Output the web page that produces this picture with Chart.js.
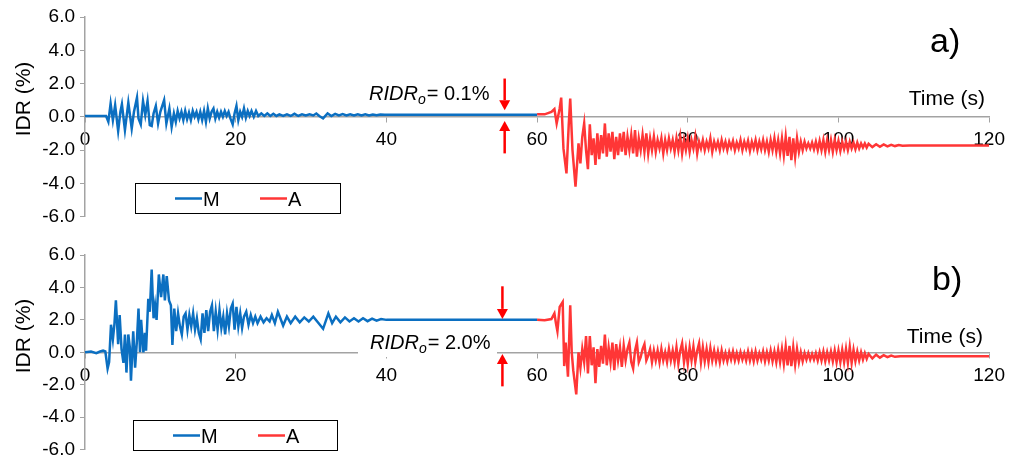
<!DOCTYPE html>
<html>
<head>
<meta charset="utf-8">
<title>IDR time histories</title>
<script src="https://cdn.jsdelivr.net/npm/chart.js@4.4.1/dist/chart.umd.min.js"></script>
<style>
  html, body { margin: 0; padding: 0; background: #fff; }
  #wrap { position: relative; width: 1012px; height: 466px; }
  #wrap canvas { position: absolute; left: 0; }
  #chartA { top: 0; }
  #chartB { top: 233px; }
</style>
</head>
<body>
<div id="wrap">
  <canvas id="chartA" width="1012" height="233"></canvas>
  <canvas id="chartB" width="1012" height="233"></canvas>
</div>
<script>
// ===== Data, [time (s), IDR (%)] =====
const xTicks = [0, 20, 40, 60, 80, 100, 120];
const yTicks = [-6, -4, -2, 0, 2, 4, 6];

// panel a) - M (mainshock)
const aSeriesM = [
    [0, 0.05], [2.8, 0.05], [3.1, -0.3], [3.4, 0.8], [3.7, -0.2], [4.0, 0.7], [4.4, -0.85], [4.7, 0.3], [4.9, 0.75], [5.3, -0.8],
    [5.75, 0.85], [6.2, -0.7], [6.5, 0.3], [6.9, 1.15], [7.1, -0.1], [7.4, -0.45], [7.7, 0.95], [8.0, 0.1], [8.3, 0.95], [8.6, -0.5],
    [8.85, -0.55], [9.1, 0.2], [9.4, 0.65], [9.7, -0.4], [10.0, 0.3], [10.5, 1.0], [10.8, -0.4], [11.2, 0.5], [11.5, -0.6], [11.8, 0.2],
    [12.05, -0.3], [12.3, 0.35], [12.55, -0.1], [12.8, 0.3], [13.05, -0.2], [13.3, 0.35], [13.55, -0.15], [13.8, 0.25], [14.05, -0.2], [14.3, 0.35],
    [14.55, 0.0], [14.8, 0.3], [15.05, -0.15], [15.3, 0.3], [15.55, -0.2], [15.8, 0.35], [16.05, -0.3], [16.3, 0.5], [16.55, -0.1], [16.8, 0.3],
    [17.05, 0.5], [17.3, -0.1], [17.55, 0.3], [17.8, -0.05], [18.05, 0.3], [18.3, 0.0], [18.55, 0.35], [18.8, 0.05], [19.05, 0.3], [19.3, -0.1],
    [19.6, -0.45], [19.85, 0.2], [20.1, 0.65], [20.35, -0.2], [20.6, 0.3], [20.85, 0.0], [21.1, 0.5], [21.35, -0.05], [21.6, 0.35], [21.85, 0.05],
    [22.1, 0.35], [22.4, 0.0], [22.7, 0.35], [23.0, 0.05], [23.4, 0.2], [23.8, 0.05], [24.2, 0.2], [24.6, 0.05], [25.0, 0.18], [25.4, 0.05],
    [25.8, 0.15], [26.3, 0.05], [26.8, 0.15], [27.3, 0.05], [27.8, 0.18], [28.3, 0.05], [28.8, 0.15], [29.3, 0.08], [29.8, 0.15], [30.3, 0.08],
    [30.7, 0.2], [31.1, 0.05], [31.6, -0.1], [32.2, 0.2], [32.7, 0.05], [33.2, 0.18], [33.7, 0.08], [34.2, 0.16], [34.7, 0.08], [35.2, 0.15],
    [35.7, 0.08], [36.2, 0.15], [36.7, 0.08], [37.2, 0.15], [37.7, 0.08], [38.2, 0.14], [38.7, 0.09], [39.2, 0.14], [39.8, 0.13], [60.0, 0.13]
];

// panel a) - A (aftershock)
const aSeriesA = [
    [60.0, 0.15], [61.0, 0.15], [61.9, 0.3], [62.3, 0.47], [62.6, -0.4], [63.0, 0.5], [63.2, 1.15], [63.5, -1.9], [63.9, -3.4], [64.2, -0.5],
    [64.4, 1.1], [64.7, -2.0], [65.1, -4.2], [65.5, -1.6], [65.75, -2.8], [66.0, -1.2], [66.25, -0.4], [66.5, -2.0], [66.75, -3.15], [67.0, -0.45],
    [67.25, -2.3], [67.5, -1.3], [67.75, -2.9], [68.0, -1.0], [68.25, -2.55], [68.5, -1.1], [68.75, -2.2], [69.0, -0.4], [69.25, -2.4], [69.5, -1.0],
    [69.75, -2.1], [70.0, -0.9], [70.25, -2.55], [70.5, -1.2], [70.75, -2.3], [71.0, -1.0], [71.25, -2.1], [71.5, -0.9], [71.75, -2.3], [72.0, -1.2],
    [72.25, -2.0], [72.5, -1.1], [72.75, -2.2], [73.0, -0.8], [73.25, -2.4], [73.5, -1.3], [73.75, -2.0], [74.0, -1.1], [74.25, -2.1], [74.5, -1.0],
    [74.75, -2.2], [75.0, -1.3], [75.25, -2.0], [75.5, -1.2], [75.75, -2.1], [76.0, -1.4], [76.25, -1.9], [76.5, -1.3], [76.75, -2.2], [77.0, -1.4],
    [77.25, -2.0], [77.5, -1.3], [77.75, -1.9], [78.0, -1.4], [78.25, -2.1], [78.5, -1.3], [78.75, -2.0], [79.0, -1.2], [79.25, -2.2], [79.5, -1.4],
    [79.75, -2.0], [80.0, -1.3], [80.25, -2.1], [80.5, -1.4], [80.75, -1.9], [81.0, -1.2], [81.25, -2.2], [81.5, -1.5], [81.75, -1.9], [82.0, -1.4],
    [82.25, -2.0], [82.5, -1.5], [82.75, -1.9], [83.0, -1.3], [83.25, -2.1], [83.5, -1.5], [83.75, -1.9], [84.0, -1.5], [84.25, -2.0], [84.5, -1.4],
    [84.75, -1.9], [85.0, -1.5], [85.25, -2.0], [85.5, -1.5], [85.75, -1.85], [86.0, -1.45], [86.25, -2.0], [86.5, -1.55], [86.75, -1.9], [87.0, -1.4],
    [87.25, -2.0], [87.5, -1.5], [87.75, -1.9], [88.0, -1.45], [88.25, -2.05], [88.5, -1.5], [88.75, -1.9], [89.0, -1.4], [89.25, -2.0], [89.5, -1.5],
    [89.75, -1.95], [90.0, -1.4], [90.25, -2.0], [90.5, -1.5], [90.75, -2.1], [91.0, -1.4], [91.25, -2.0], [91.5, -1.3], [91.75, -2.1], [92.0, -1.4],
    [92.25, -2.2], [92.5, -1.3], [92.75, -2.3], [93.0, -1.2], [93.25, -2.35], [93.5, -1.2], [93.75, -2.6], [94.0, -1.3], [94.25, -2.4], [94.5, -1.3],
    [94.75, -2.1], [95.0, -1.5], [95.25, -2.0], [95.5, -1.5], [95.75, -1.9], [96.0, -1.6], [96.25, -1.9], [96.5, -1.55], [96.75, -1.95], [97.0, -1.5],
    [97.25, -2.0], [97.5, -1.45], [97.75, -2.0], [98.0, -1.4], [98.25, -2.1], [98.5, -1.4], [98.75, -2.0], [99.0, -1.4], [99.25, -2.1], [99.5, -1.4],
    [99.75, -2.0], [100.0, -1.45], [100.25, -2.05], [100.5, -1.5], [100.75, -1.95], [101.0, -1.5], [101.25, -2.0], [101.5, -1.5], [101.75, -1.9], [102.0, -1.55],
    [102.25, -1.95], [102.5, -1.55], [102.75, -1.9], [103.0, -1.6], [103.25, -1.85], [103.5, -1.6], [103.75, -1.85], [104.0, -1.62], [104.5, -1.82], [105.0, -1.65],
    [105.5, -1.8], [106.0, -1.66], [106.5, -1.78], [107.0, -1.68], [107.5, -1.76], [108.0, -1.7], [108.5, -1.74], [109.4, -1.72], [120, -1.72]
];

// panel b) - M
const bSeriesM = [
    [0, 0.0], [0.8, 0.05], [1.5, -0.05], [2.0, 0.05], [2.4, 0.1], [2.7, 0.05], [3.0, -1.0], [3.2, -0.6], [3.45, 1.7], [3.7, 0.8],
    [3.9, 1.7], [4.1, 3.2], [4.4, 0.5], [4.6, 2.3], [4.85, 0.2], [5.1, -0.65], [5.3, 1.1], [5.5, -1.25], [5.75, 1.1], [5.95, 0.3],
    [6.1, -1.75], [6.4, 1.3], [6.65, -0.95], [6.9, 0.8], [7.1, 2.7], [7.3, 0.0], [7.45, 2.0], [7.75, 0.0], [7.95, 1.2], [8.1, 0.1],
    [8.4, 3.3], [8.6, 2.5], [8.85, 5.1], [9.1, 2.1], [9.3, 2.9], [9.5, 2.0], [9.8, 4.8], [10.1, 3.4], [10.4, 4.8], [10.6, 3.2],
    [10.85, 4.7], [11.15, 3.2], [11.4, 2.9], [11.6, 0.45], [11.85, 2.7], [12.1, 1.3], [12.35, 2.4], [12.6, 1.6], [12.85, 1.1], [13.1, 2.2],
    [13.35, 2.4], [13.6, 1.4], [13.85, 2.3], [14.1, 1.6], [14.35, 2.4], [14.6, 1.4], [14.85, 2.1], [15.1, 1.2], [15.35, 0.8], [15.6, 2.4],
    [15.85, 1.2], [16.1, 2.6], [16.35, 1.3], [16.6, 2.5], [16.85, 2.9], [17.1, 1.3], [17.35, 2.5], [17.6, 1.4], [17.85, 2.6], [18.1, 1.5],
    [18.35, 2.2], [18.6, 1.1], [18.85, 2.4], [19.1, 1.6], [19.35, 2.7], [19.6, 3.0], [19.85, 1.4], [20.1, 2.8], [20.35, 1.6], [20.6, 2.4],
    [20.85, 1.5], [21.1, 2.2], [21.4, 2.5], [21.7, 1.7], [22.0, 2.3], [22.3, 1.8], [22.6, 2.2], [22.9, 1.8], [23.3, 2.2], [23.7, 1.85],
    [24.1, 2.1], [24.5, 1.9], [24.8, 2.3], [25.2, 1.8], [25.6, 2.5], [26.3, 1.65], [26.8, 2.2], [27.3, 1.8], [27.9, 2.2], [28.5, 1.85],
    [29.1, 2.15], [29.7, 1.9], [30.3, 2.2], [30.9, 1.85], [31.6, 1.45], [32.3, 2.4], [32.8, 1.8], [33.3, 2.2], [33.9, 1.85], [34.5, 2.15],
    [35.1, 1.9], [35.7, 2.1], [36.3, 1.9], [36.9, 2.1], [37.5, 1.92], [38.1, 2.08], [38.7, 1.95], [39.3, 2.05], [40.0, 2.0], [60.0, 2.0]
];

// panel b) - A
const bSeriesA = [
    [60.0, 2.0], [61.0, 1.98], [61.9, 2.05], [62.3, 2.4], [62.5, 1.8], [62.7, 1.3], [63.0, 2.8], [63.4, 3.1], [63.6, -0.85], [63.8, 0.6],
    [64.1, -1.5], [64.4, 2.9], [64.6, 0.0], [64.8, -1.1], [65.2, -2.6], [65.5, 0.0], [65.75, -0.95], [66.0, 0.2], [66.25, -0.6], [66.5, 1.0],
    [66.75, -1.3], [67.0, 1.0], [67.25, -0.8], [67.5, 0.3], [67.75, -1.9], [68.0, 0.2], [68.25, -0.9], [68.5, 0.4], [68.75, -0.7], [69.0, 1.1],
    [69.25, -0.8], [69.5, 0.3], [69.75, -0.6], [70.0, 0.6], [70.25, -1.1], [70.5, 0.5], [70.75, -0.5], [71.0, 0.3], [71.25, -0.9], [71.5, 0.4],
    [71.75, -0.5], [72.0, 0.2], [72.25, 0.6], [72.5, -0.6], [72.75, -1.0], [73.0, 0.1], [73.25, 0.6], [73.5, -0.6], [73.75, -0.3], [74.0, 0.2],
    [74.25, 0.5], [74.5, -0.5], [74.75, -0.2], [75.0, 0.2], [75.25, -0.6], [75.5, 0.1], [75.75, -0.5], [76.0, 0.1], [76.25, -0.6], [76.5, 0.2],
    [76.75, -0.5], [77.0, 0.0], [77.25, -0.6], [77.5, 0.2], [77.75, -0.5], [78.0, 0.1], [78.25, -0.6], [78.5, 0.3], [78.75, -0.7], [79.0, 0.1],
    [79.25, 0.55], [79.5, -0.6], [79.75, 0.2], [80.0, -0.7], [80.25, 0.3], [80.5, -0.5], [80.75, 0.35], [81.0, -0.6], [81.25, 0.1], [81.5, 0.55],
    [81.75, -0.6], [82.0, 0.3], [82.25, -0.55], [82.5, 0.2], [82.75, -0.6], [83.0, 0.25], [83.25, -0.5], [83.5, 0.1], [83.75, -0.55], [84.0, 0.05],
    [84.25, -0.6], [84.5, 0.1], [84.75, -0.5], [85.0, -0.05], [85.25, -0.55], [85.5, 0.0], [85.75, -0.45], [86.0, 0.05], [86.25, -0.5], [86.5, -0.05],
    [86.75, -0.5], [87.0, 0.0], [87.25, -0.45], [87.5, -0.05], [87.75, -0.5], [88.0, 0.05], [88.25, -0.5], [88.5, 0.0], [88.75, -0.55], [89.0, 0.05],
    [89.25, -0.5], [89.5, -0.05], [89.75, -0.45], [90.0, 0.05], [90.25, -0.55], [90.5, 0.0], [90.75, -0.5], [91.0, 0.1], [91.25, -0.55], [91.5, 0.05],
    [91.75, -0.6], [92.0, 0.15], [92.25, -0.6], [92.5, 0.2], [92.75, -0.7], [93.0, 0.35], [93.25, -0.8], [93.5, 0.4], [93.75, -0.85], [94.0, 0.3],
    [94.25, -0.75], [94.5, 0.2], [94.75, -0.6], [95.0, 0.0], [95.25, -0.55], [95.5, -0.05], [95.75, -0.45], [96.0, -0.05], [96.25, -0.45], [96.5, -0.1],
    [96.75, -0.45], [97.0, -0.05], [97.25, -0.5], [97.5, 0.0], [97.75, -0.5], [98.0, 0.05], [98.25, -0.55], [98.5, 0.0], [98.75, -0.5], [99.0, 0.05],
    [99.25, -0.55], [99.5, 0.1], [99.75, -0.6], [100.0, 0.1], [100.25, -0.6], [100.5, 0.15], [100.75, -0.6], [101.0, 0.2], [101.25, -0.65], [101.5, 0.33],
    [101.75, -0.65], [102.0, 0.15], [102.25, -0.55], [102.5, 0.05], [102.75, -0.5], [103.0, 0.0], [103.25, -0.45], [103.5, -0.05], [103.75, -0.4], [104.0, -0.1],
    [104.5, -0.38], [105.0, -0.15], [105.5, -0.33], [106.0, -0.18], [106.5, -0.3], [107.0, -0.2], [107.5, -0.28], [108.2, -0.24], [120, -0.24]
];

// ===== Styling =====
const FONT = '"Liberation Sans", Arial, sans-serif';
const colors = {
    M: '#0b6fc1',
    A: '#ff3636',
    axis: '#a3a3a3',
    arrow: '#ff0000',
    text: '#000000'
};

function toPoints(series) {
    return series.map(p => ({ x: p[0], y: p[1] }));
}

function drawArrow(ctx, x, yFrom, yTo) {
    const dir = yTo > yFrom ? 1 : -1;
    const head = 10;
    ctx.strokeStyle = colors.arrow;
    ctx.fillStyle = colors.arrow;
    ctx.lineWidth = 2.5;
    ctx.beginPath();
    ctx.moveTo(x, yFrom);
    ctx.lineTo(x, yTo - dir * head);
    ctx.stroke();
    ctx.beginPath();
    ctx.moveTo(x, yTo);
    ctx.lineTo(x - 5.5, yTo - dir * head);
    ctx.lineTo(x + 5.5, yTo - dir * head);
    ctx.closePath();
    ctx.fill();
}

// ===== Panel decorations (labels, arrows, legend box) =====
const panelDecor = {
    id: 'panelDecor',
    afterDraw(chart, args, o) {
        const ctx = chart.ctx;
        const xs = chart.scales.x;
        const ys = chart.scales.y;
        ctx.save();

        // RIDR label on a white box
        ctx.fillStyle = '#ffffff';
        ctx.fillRect(o.ridrBox[0], o.ridrBox[1], o.ridrBox[2], o.ridrBox[3]);
        ctx.fillStyle = colors.text;
        ctx.textBaseline = 'alphabetic';
        ctx.textAlign = 'left';
        let x = o.ridrPos[0];
        const base = o.ridrPos[1];
        ctx.font = 'italic 20px ' + FONT;
        ctx.fillText('RIDR', x, base);
        x += ctx.measureText('RIDR').width;
        ctx.font = 'italic 14px ' + FONT;
        ctx.fillText('o', x, base + 4);
        x += ctx.measureText('o').width + 1;
        ctx.font = '20px ' + FONT;
        ctx.fillText('= ' + o.ridrValue, x, base);

        // arrows
        const ax = xs.getPixelForValue(o.arrowTime);
        drawArrow(ctx, ax, ys.getPixelForValue(o.downArrow[0]), ys.getPixelForValue(o.downArrow[1]));
        drawArrow(ctx, ax, ys.getPixelForValue(o.upArrow[0]), ys.getPixelForValue(o.upArrow[1]));

        // panel letter
        ctx.fillStyle = colors.text;
        ctx.font = '34px ' + FONT;
        ctx.fillText(o.letter, o.letterPos[0], o.letterPos[1]);

        // x axis title
        ctx.font = '21px ' + FONT;
        ctx.textAlign = 'right';
        ctx.fillText('Time (s)', o.timePos[0], o.timePos[1]);

        // y axis title
        ctx.save();
        ctx.translate(o.yTitlePos[0], o.yTitlePos[1]);
        ctx.rotate(-Math.PI / 2);
        ctx.textAlign = 'center';
        ctx.font = '21px ' + FONT;
        ctx.fillText('IDR (%)', 0, 0);
        ctx.restore();

        // legend box
        const lb = o.legendBox;
        ctx.strokeStyle = '#000000';
        ctx.lineWidth = 1;
        ctx.strokeRect(lb[0] + 0.5, lb[1] + 0.5, lb[2], lb[3]);
        const midY = lb[1] + lb[3] / 2 + 0.5;
        ctx.font = '20px ' + FONT;
        ctx.textAlign = 'left';
        chart.data.datasets.forEach((ds, i) => {
            const sx = lb[0] + o.legendItems[i];
            ctx.strokeStyle = ds.borderColor;
            ctx.lineWidth = 2.5;
            ctx.beginPath();
            ctx.moveTo(sx, midY);
            ctx.lineTo(sx + 27, midY);
            ctx.stroke();
            ctx.fillStyle = colors.text;
            ctx.fillText(ds.label, sx + 28, midY + 7);
        });

        ctx.restore();
    }
};

function makePanel(canvasId, seriesM, seriesA, decor, padTop, padBottom) {
    return new Chart(document.getElementById(canvasId), {
        type: 'line',
        data: {
            datasets: [
                {
                    label: 'M',
                    data: toPoints(seriesM),
                    borderColor: colors.M,
                    borderWidth: 2.5,
                    pointRadius: 0,
                    tension: 0
                },
                {
                    label: 'A',
                    data: toPoints(seriesA),
                    borderColor: colors.A,
                    borderWidth: 2.5,
                    pointRadius: 0,
                    tension: 0
                }
            ]
        },
        options: {
            responsive: false,
            animation: false,
            devicePixelRatio: 1,
            layout: { padding: { left: 0, right: 22, top: padTop, bottom: padBottom } },
            scales: {
                x: {
                    type: 'linear',
                    min: xTicks[0],
                    max: xTicks[xTicks.length - 1],
                    position: { y: 0 },
                    afterBuildTicks: (axis) => { axis.ticks = xTicks.map(v => ({ value: v })); },
                    ticks: { color: colors.text, font: { family: FONT, size: 19 }, padding: 7, maxRotation: 0 },
                    grid: { drawOnChartArea: false, drawTicks: true, tickLength: 5, color: colors.axis },
                    border: { color: colors.axis, width: 1.5 }
                },
                y: {
                    min: yTicks[0],
                    max: yTicks[yTicks.length - 1],
                    afterBuildTicks: (axis) => { axis.ticks = yTicks.map(v => ({ value: v })); },
                    afterFit: (axis) => { axis.width = 85; },
                    ticks: {
                        color: colors.text,
                        font: { family: FONT, size: 19 },
                        padding: 5,
                        callback: (v) => Number(v).toFixed(1)
                    },
                    grid: { drawOnChartArea: false, drawTicks: true, tickLength: 5, color: colors.axis },
                    border: { color: colors.axis, width: 1.5 }
                }
            },
            plugins: {
                legend: { display: false },
                tooltip: { enabled: false },
                panelDecor: decor
            }
        },
        plugins: [panelDecor]
    });
}

// ===== Panel a) =====
makePanel('chartA', aSeriesM, aSeriesA, {
    letter: 'a)',
    letterPos: [930, 52],
    timePos: [985, 105],
    yTitlePos: [30, 99],
    ridrValue: '0.1%',
    ridrPos: [369, 100],
    ridrBox: [358, 80, 139, 26],
    arrowTime: 55.7,
    downArrow: [2.3, 0.4],
    upArrow: [-2.2, -0.25],
    legendBox: [135, 183, 205, 30],
    legendItems: [40, 125]
}, 17, 13);

// ===== Panel b) =====
makePanel('chartB', bSeriesM, bSeriesA, {
    letter: 'b)',
    letterPos: [932, 57],
    timePos: [983, 110],
    yTitlePos: [30, 103],
    ridrValue: '2.0%',
    ridrPos: [370, 116],
    ridrBox: [358, 96, 139, 28],
    arrowTime: 55.4,
    downArrow: [4.07, 2.06],
    upArrow: [-2.1, -0.1],
    legendBox: [133, 187, 204, 30],
    legendItems: [40, 125]
}, 22, 10);
</script>
</body>
</html>
